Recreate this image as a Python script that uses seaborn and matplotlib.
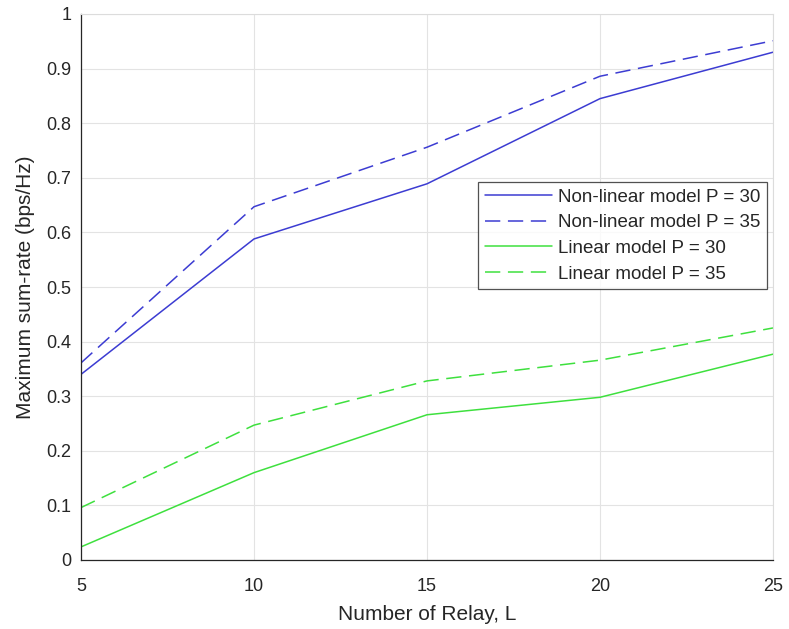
import matplotlib
matplotlib.use("Agg")
import matplotlib.pyplot as plt
import seaborn as sns
import pandas as pd

relays = [5, 10, 15, 20, 25]
nonlinear_p30 = [0.340, 0.588, 0.689, 0.845, 0.930]
nonlinear_p35 = [0.361, 0.647, 0.756, 0.886, 0.951]
linear_p30 = [0.024, 0.160, 0.266, 0.298, 0.377]
linear_p35 = [0.096, 0.247, 0.328, 0.366, 0.425]
series_names = ["Non-linear model P = 30", "Non-linear model P = 35",
                "Linear model P = 30", "Linear model P = 35"]
series_values = [nonlinear_p30, nonlinear_p35, linear_p30, linear_p35]
x_ticks = [5, 10, 15, 20, 25]
y_ticks = [0, 0.1, 0.2, 0.3, 0.4, 0.5, 0.6, 0.7, 0.8, 0.9, 1]
y_tick_labels = ["0", "0.1", "0.2", "0.3", "0.4", "0.5", "0.6", "0.7", "0.8", "0.9", "1"]

rows = []
for name, vals in zip(series_names, series_values):
    for x, v in zip(relays, vals):
        rows.append({"L": x, "rate": v, "series": name})
df = pd.DataFrame(rows)

sns.set_style("white")
plt.rcParams["font.family"] = ["Liberation Sans", "DejaVu Sans"]
text_color = "#262626"

fig = plt.figure(figsize=(7.89, 6.29), dpi=100)
ax = fig.add_axes([81 / 789, 1 - 560 / 629, (773 - 81) / 789, (560 - 14) / 629])

blue = "#3c3cd2"
green = "#3ee03e"
palette = {series_names[0]: blue, series_names[1]: blue,
           series_names[2]: green, series_names[3]: green}
dashes = {series_names[0]: "", series_names[1]: (10, 5),
          series_names[2]: "", series_names[3]: (10, 5)}

sns.lineplot(data=df, x="L", y="rate", hue="series", style="series",
             palette=palette, dashes=dashes, hue_order=series_names,
             style_order=series_names, linewidth=1.1, ax=ax)

ax.set_xlim(5, 25)
ax.set_ylim(0, 1)
ax.set_xticks(x_ticks)
ax.set_xticklabels([str(t) for t in x_ticks])
ax.set_yticks(y_ticks)
ax.set_yticklabels(y_tick_labels)
ax.grid(True, color="#e3e3e3", linewidth=0.8)
ax.set_axisbelow(True)
ax.tick_params(direction="in", length=5, width=0.8, colors=text_color,
               labelsize=13, top=False, right=False)
ax.tick_params(axis="x", pad=13)
ax.tick_params(axis="y", pad=7)
for s in ["left", "bottom"]:
    ax.spines[s].set_color(text_color)
    ax.spines[s].set_linewidth(0.9)
for s in ["top", "right"]:
    ax.spines[s].set_color("#dcdcdc")
    ax.spines[s].set_linewidth(0.8)

ax.set_xlabel("Number of Relay, L", fontsize=15, color=text_color, labelpad=7)
ax.set_ylabel("Maximum sum-rate (bps/Hz)", fontsize=15, color=text_color, labelpad=8)

leg = ax.legend(loc="upper right", bbox_to_anchor=(0.991, 0.692), fontsize=13.5,
                frameon=True, fancybox=False, edgecolor="#262626",
                handlelength=3.6, handletextpad=0.3, borderpad=0.35,
                labelspacing=0.45, borderaxespad=0)
leg.get_frame().set_linewidth(0.9)
for t in leg.get_texts():
    t.set_color(text_color)

fig.savefig("out.png", dpi=100)
